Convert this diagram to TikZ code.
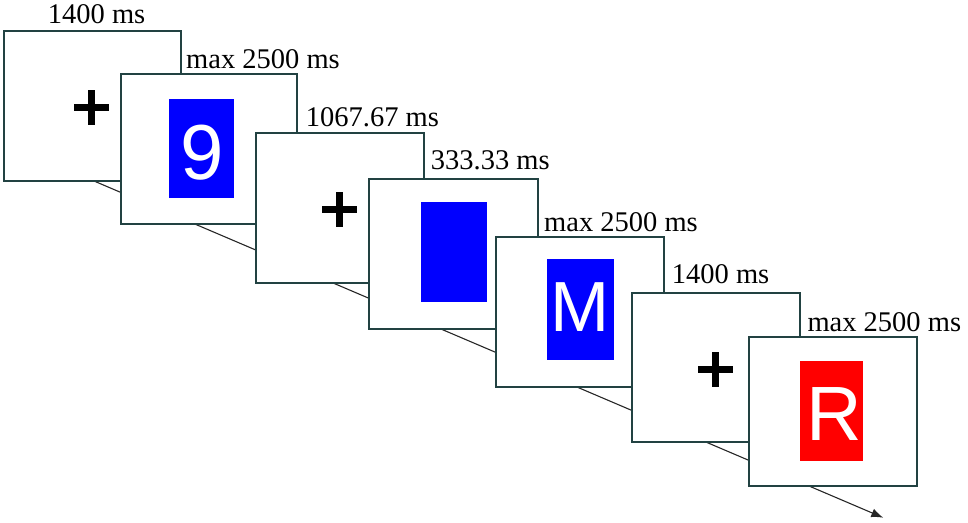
\documentclass[tikz,border=0pt]{standalone}
\usepackage{fontspec}
\setmainfont{Liberation Serif}
\newfontfamily\stimfont{Liberation Sans}
\usetikzlibrary{arrows.meta}
\definecolor{framecol}{RGB}{34,66,66}
\definecolor{stimblue}{RGB}{0,0,255}
\definecolor{stimred}{RGB}{255,0,0}
\begin{document}
\begin{tikzpicture}[x=1pt,y=-1pt,
  frame/.style={draw=framecol, line width=2pt, fill=white, inner sep=0pt, outer sep=0pt},
  stimrect/.style={inner sep=0pt, outer sep=0pt},
  letter/.style={text=white, inner sep=0pt, anchor=base},
  plusmark/.style={minimum size=35pt, inner sep=0pt, outer sep=0pt,
    path picture={
      \fill ([xshift=-3.5pt]path picture bounding box.north) rectangle ([xshift=3.5pt]path picture bounding box.south);
      \fill ([yshift=-3.5pt]path picture bounding box.west) rectangle ([yshift=3.5pt]path picture bounding box.east);
    }},
  timelabel/.style={anchor=base west, inner sep=0pt, font=\fontsize{28.5}{32}\selectfont},
  timeline/.style={draw=black!85, line width=1.1pt, -{Latex[length=12pt,width=9pt]}}
]
\useasboundingbox (0,0) rectangle (968,522);

\coordinate (tstart) at (94,181);
\coordinate (tend) at (883.3,517.7);
\draw[timeline] (tstart) -- (tend);

% frame 1
\node[frame, minimum width=176.7pt, minimum height=150pt] (f1) at (92.35,105.7) {};
\node[plusmark] (p1) at (91.5,107.5) {};
% frame 2
\node[frame, minimum width=175.7pt, minimum height=149.7pt] (f2) at (208.85,149.15) {};
\node[stimrect, fill=stimblue, minimum width=65pt, minimum height=99.6pt] (s2) at (201.8,148.5) {};
\node[letter, font=\stimfont\fontsize{78}{80}\selectfont] (l2) at (202,179.5) {9};
% frame 3
\node[frame, minimum width=168.3pt, minimum height=150pt] (f3) at (339.85,208.3) {};
\node[plusmark] (p3) at (339.7,209.7) {};
% frame 4
\node[frame, minimum width=168.3pt, minimum height=149.7pt] (f4) at (453.5,253.85) {};
\node[stimrect, fill=stimblue, minimum width=66.6pt, minimum height=100pt] (s4) at (454,251.7) {};
% frame 5
\node[frame, minimum width=168.3pt, minimum height=150pt] (f5) at (580.15,312.3) {};
\node[stimrect, fill=stimblue, minimum width=67.3pt, minimum height=100.7pt] (s5) at (580.3,309.7) {};
\node[letter, font=\stimfont\fontsize{71}{74}\selectfont] (l5) at (580,331.7) {M};
% frame 6
\node[frame, minimum width=168pt, minimum height=149pt] (f6) at (716,367.8) {};
\node[plusmark] (p6) at (715.7,369.3) {};
% frame 7
\node[frame, minimum width=168.6pt, minimum height=149.3pt] (f7) at (833,411.35) {};
\node[stimrect, fill=stimred, minimum width=63.3pt, minimum height=100pt] (s7) at (831.7,411) {};
\node[letter, font=\stimfont\fontsize{77}{80}\selectfont] (l7) at (834,440) {R};

% labels
\node[timelabel] (t1) at (47.7,23.3) {1400 ms};
\node[timelabel] (t2) at (186,68.3) {max 2500 ms};
\node[timelabel] (t3) at (305.7,126) {1067.67 ms};
\node[timelabel] (t4) at (430.7,169) {333.33 ms};
\node[timelabel] (t5) at (544,231) {max 2500 ms};
\node[timelabel] (t6) at (671.7,283.3) {1400 ms};
\node[timelabel] (t7) at (807.3,331.7) {max 2500 ms};
\end{tikzpicture}
\end{document}
